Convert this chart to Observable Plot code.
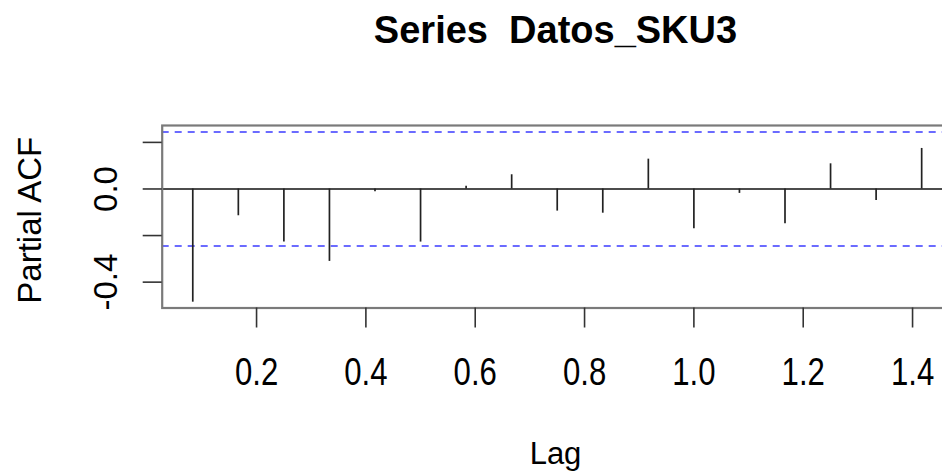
<!DOCTYPE html>
<html>
<head>
<meta charset="utf-8">
<script src="https://cdn.jsdelivr.net/npm/d3@7"></script>
<script src="https://cdn.jsdelivr.net/npm/@observablehq/plot@0.6"></script>
<style>
  html, body { margin: 0; padding: 0; background: #fff; overflow: hidden; width: 942px; height: 475px; }
  #chart { width: 942px; height: 475px; overflow: hidden; position: relative; }
  #chart svg { position: absolute; left: 0; top: 0; max-width: none !important; width: 960px !important; height: 475px !important; }
  svg text { white-space: pre; }
</style>
</head>
<body>
<div id="chart"></div>
<script>
// ---- data ----
const titleText = "Series  Datos_SKU3";
const xLabel = "Lag";
const yLabel = "Partial ACF";
const lags = [1,2,3,4,5,6,7,8,9,10,11,12,13,14,15,16,17].map(k => k / 12);
const pacfValues = [-0.486, -0.115, -0.228, -0.311, -0.012, -0.228, 0.012, 0.061,
                    -0.095, -0.104, 0.128, -0.171, -0.019, -0.149, 0.108, -0.049, 0.174];
const ciBound = 0.245;
const xTicks = [0.2, 0.4, 0.6, 0.8, 1.0, 1.2, 1.4];
const yTicks = [-0.4, -0.2, 0.0, 0.2];
const yTickLabels = ["-0.4", "", "0.0", ""];

const data = lags.map((lag, i) => ({lag, value: pacfValues[i]}));
const yLabelRows = yTicks.map((v, i) => ({v, label: yTickLabels[i]})).filter(d => d.label !== "");

const sans = "'Liberation Sans', Arial, sans-serif";

const chart = Plot.plot({
  width: 960,
  height: 475,
  marginLeft: 161.7,
  marginRight: 11.7,
  marginTop: 125,
  marginBottom: 167.5,
  style: {background: "#fff", color: "#000", overflow: "visible", maxWidth: "none"},
  x: {domain: [0.0274, 1.4663], axis: null},
  y: {domain: [-0.511, 0.2725], axis: null},
  marks: [
    Plot.ruleY([ciBound, -ciBound], {stroke: "#6b6bff", strokeWidth: 2, strokeDasharray: "7,6"}),
    Plot.ruleY([0], {stroke: "#111", strokeWidth: 1.6}),
    Plot.ruleX(data, {x: "lag", y1: 0, y2: "value", stroke: "#222", strokeWidth: 1.7}),
    Plot.frame({stroke: "#7a7a7a", strokeWidth: 2.2}),
    Plot.axisX({ticks: xTicks, tickSize: 20, tickPadding: 30, tickFormat: d3.format(".1f"),
                fontSize: 38, fontFamily: sans, stroke: "#333", strokeWidth: 1.6, label: null}),
    Plot.axisY({ticks: yTicks, tickSize: 19, tickFormat: () => "", stroke: "#333", strokeWidth: 1.6, label: null}),
    Plot.text(yLabelRows, {y: "v", text: "label", frameAnchor: "left", dx: -45, rotate: -90,
                           textAnchor: "middle", lineAnchor: "bottom", fontSize: 33, fontFamily: sans}),
    Plot.text([yLabel], {frameAnchor: "left", dx: -121.7, dy: 3.5, rotate: -90, textAnchor: "middle",
                         lineAnchor: "bottom", fontSize: 33, fontFamily: sans}),
    Plot.text([xLabel], {frameAnchor: "bottom", dy: 155.8, lineAnchor: "bottom", fontSize: 31, fontFamily: sans}),
    Plot.text([titleText], {frameAnchor: "top", dy: -82.7, lineAnchor: "bottom", fontSize: 38,
                            fontWeight: "bold", fontFamily: sans})
  ]
});
// the reference's x tick labels are horizontally condensed
d3.select(chart).selectAll('g[aria-label="x-axis tick label"] text').each(function() {
  const t = this.getAttribute("transform") || "";
  this.setAttribute("transform", t + " scale(0.82,1)");
});
document.getElementById("chart").appendChild(chart);
</script>
</body>
</html>
